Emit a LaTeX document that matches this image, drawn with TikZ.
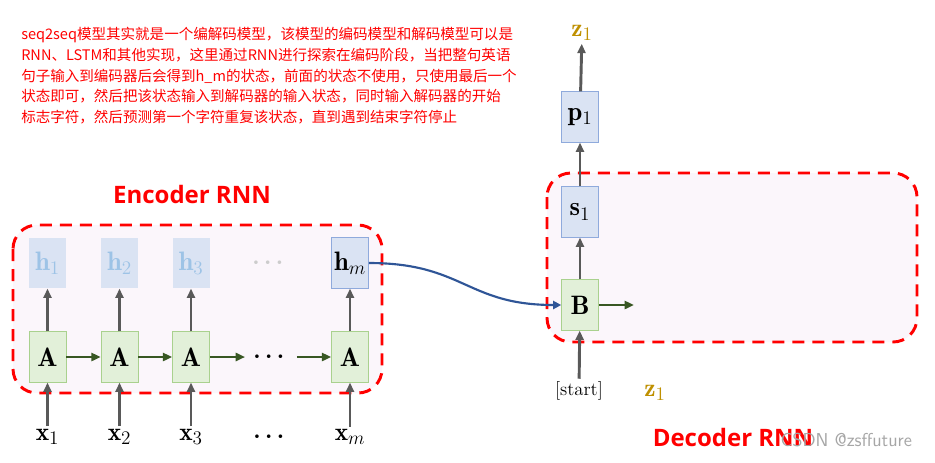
\documentclass[tikz,border=0pt]{standalone}
\usepackage{fontspec}
\usepackage{amsmath}
\usepackage{amssymb}
\usepackage{xcolor}
\usetikzlibrary{arrows.meta}
\newfontfamily\cjk{Noto Sans CJK SC}
\newfontfamily\titlefont{Open Sans}
\definecolor{cellgreen}{HTML}{E2F0D9}
\definecolor{cellgreenline}{HTML}{A9D18E}
\definecolor{cellblue}{HTML}{DAE3F3}
\definecolor{cellblueline}{HTML}{8FAADC}
\definecolor{fadedtext}{HTML}{9DC3E6}
\definecolor{arrowgray}{HTML}{595959}
\definecolor{arrowgreen}{HTML}{385723}
\definecolor{linkblue}{HTML}{2F5597}
\definecolor{rnnfill}{HTML}{FBF6FB}
\definecolor{zgold}{HTML}{BF9000}
\tikzset{
  cell/.style={minimum width=27.75pt,minimum height=38pt,inner sep=0pt,font=\fontsize{20}{20}\selectfont},
  acell/.style={cell,draw=cellgreenline,fill=cellgreen},
  hcell/.style={cell,draw=cellblueline,fill=cellblue},
  hfaded/.style={cell,fill=cellblue,text=fadedtext},
  lab/.style={inner sep=2pt,font=\fontsize{19}{19}\selectfont},
  up/.style={-{Triangle[length=7pt,width=6pt]},arrowgray,line width=2.2pt},
  next/.style={-{Triangle[length=7pt,width=6pt]},arrowgreen,line width=2pt},
  rnnbox/.style={draw=red,fill=rnnfill,line width=2.2pt,dash pattern=on 9pt off 6pt,rounded corners=18pt},
  title/.style={text=red,font=\titlefont\bfseries\fontsize{18}{18}\selectfont}
}
\begin{document}
\begin{tikzpicture}[x=0.75pt,y=-0.75pt]
\useasboundingbox[fill=white] (0,0) rectangle (935,462);
\draw[rnnbox] (13,225) rectangle (382,393);
\draw[rnnbox] (547,173) rectangle (917,342);
\node[title] (enc) at (192,194) {Encoder RNN};
\node[title] (dec) at (733,437) {Decoder RNN};
\node[text=gray!70,font=\fontsize{14}{14}\selectfont\sffamily,anchor=west] (mark) at (776,440) {CSDN @zsffuture};
% note
\node[anchor=north west,inner sep=0pt,align=left,text=red,font=\cjk\fontsize{10.9}{15.6}\selectfont] (note) at (21,27)
{seq2seq模型其实就是一个编解码模型，该模型的编码模型和解码模型可以是\\
RNN、LSTM和其他实现，这里通过RNN进行探索在编码阶段，当把整句英语\\
句子输入到编码器后会得到h\_m的状态，前面的状态不使用，只使用最后一个\\
状态即可，然后把该状态输入到解码器的输入状态，同时输入解码器的开始\\
标志字符，然后预测第一个字符重复该状态，直到遇到结束字符停止};
% encoder
\foreach \i/\x in {1/47.5,2/119.5,3/191}{
  \node[acell] (a\i) at (\x,357) {$\mathbf{A}$};
  \node[hfaded] (h\i) at (\x,263) {$\mathbf{h}_{\i}$};
  \node[lab] (x\i) at (\x,437) {$\mathbf{x}_{\i}$};
  \draw[up] (x\i) -- (a\i);
  \draw[up] (a\i) -- (h\i);
}
\node[acell] (am) at (350,357) {$\mathbf{A}$};
\node[hcell] (hm) at (350,263) {$\mathbf{h}_{m}$};
\node[lab] (xm) at (350,437) {$\mathbf{x}_{m}$};
\draw[up] (xm) -- (am);
\draw[up] (am) -- (hm);
\node[lab,inner sep=6pt] (adots) at (271,357) {$\boldsymbol{\cdots}$};
\node[lab,text=black!20] (hdots) at (270,263) {$\boldsymbol{\cdots}$};
\node[lab] (xdots) at (271,437) {$\boldsymbol{\cdots}$};
\draw[next] (a1) -- (a2);
\draw[next] (a2) -- (a3);
\draw[next] (a3) -- (adots);
\draw[next] (adots) -- (am);
% decoder
\node[acell] (b) at (580,305) {$\mathbf{B}$};
\node[hcell] (s1) at (580,212) {$\mathbf{s}_{1}$};
\node[hcell] (p1) at (580,117) {$\mathbf{p}_{1}$};
\node[lab,text=zgold] (ztop) at (582,33) {$\mathbf{z}_{1}$};
\node[lab,font=\fontsize{14}{14}\selectfont] (start) at (579,391) {[start]};
\node[lab,text=zgold] (zlow) at (655,393) {$\mathbf{z}_{1}$};
\coordinate (bout) at (634,305);
\draw[up] (start) -- (b);
\draw[up] (b) -- (s1);
\draw[up] (s1) -- (p1);
\draw[up] (p1) -- (ztop);
\draw[next] (b) -- (bout);
\draw[-{Triangle[length=6pt,width=6pt]},linkblue,line width=1.6pt] (hm.east) .. controls +(95,0) and +(-95,0) .. (b.west);
\end{tikzpicture}
\end{document}
